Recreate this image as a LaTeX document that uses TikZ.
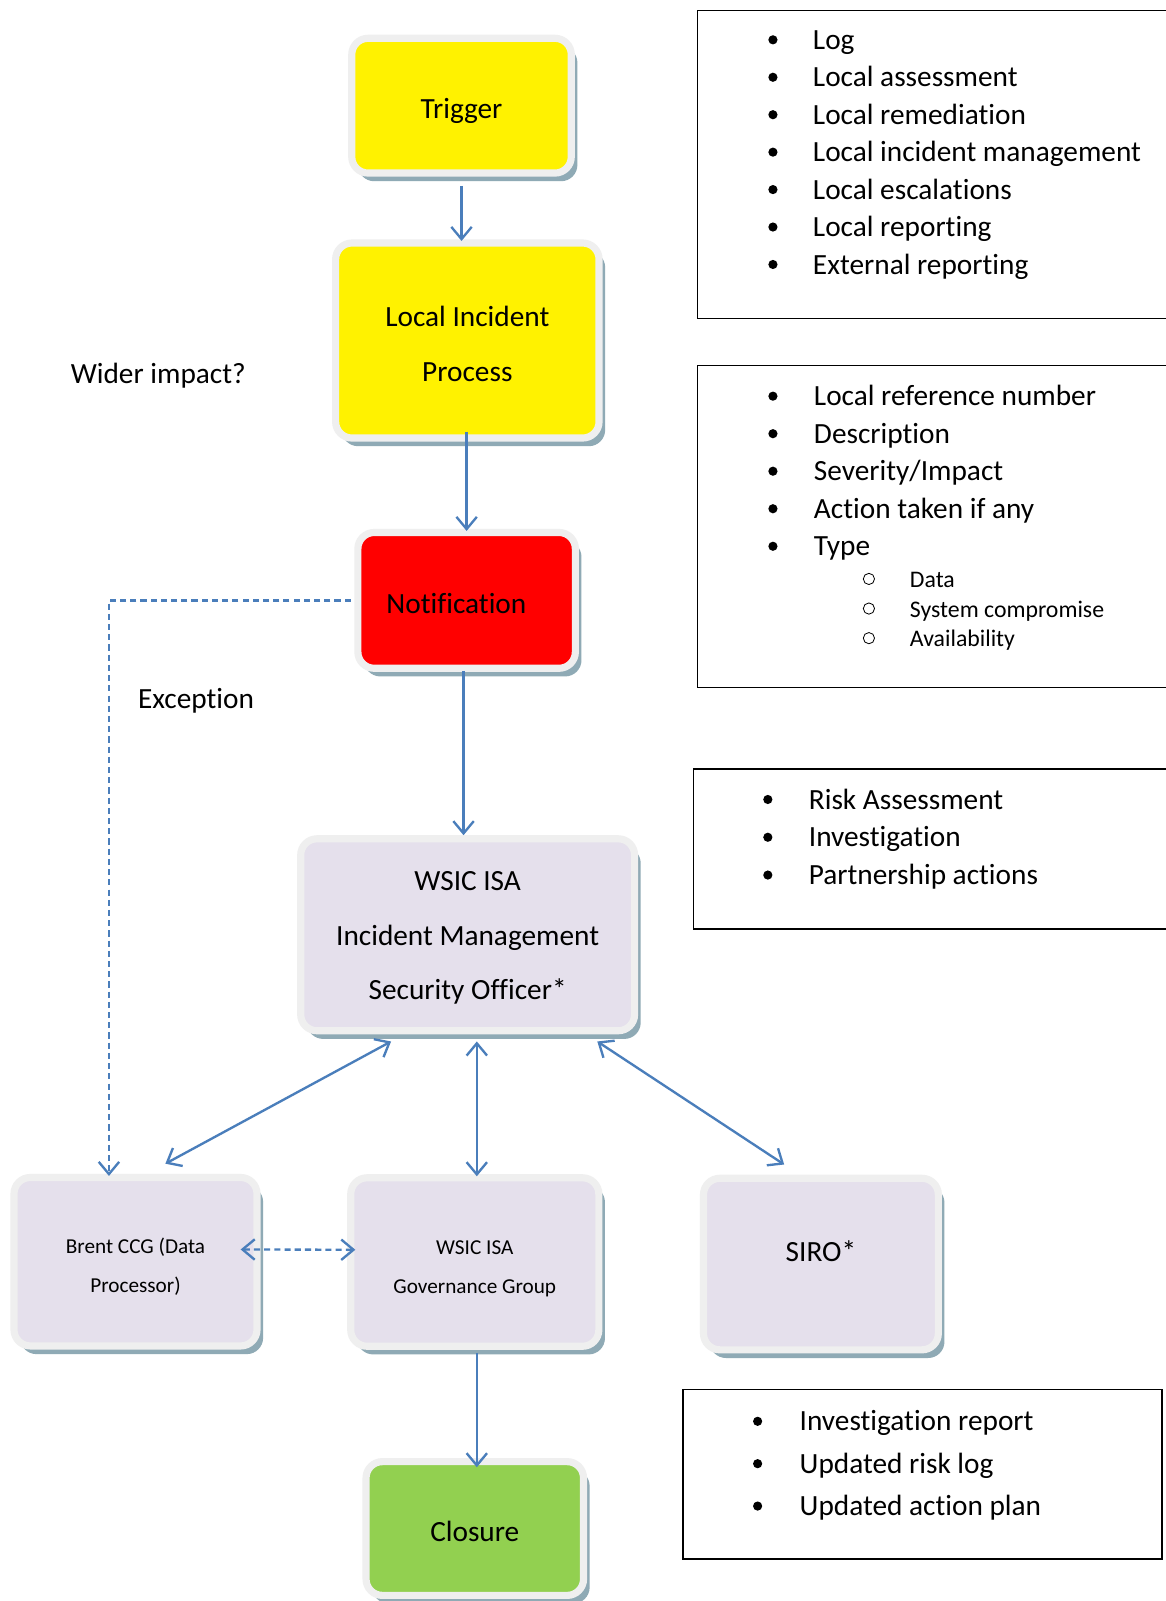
\documentclass[tikz,border=0pt]{standalone}
\usepackage{fontspec}
\setmainfont{Carlito}[Ligatures=NoCommon]
\usetikzlibrary{arrows.meta,shadows,calc}

\definecolor{ringc}{HTML}{EFEFEF}
\definecolor{shadc}{RGB}{143,170,181}
\definecolor{arrc}{HTML}{4A7EBB}
\definecolor{lilac}{HTML}{E5E0EC}
\definecolor{greenc}{HTML}{92D050}

\newcommand\tops[1]{\rule{0pt}{#1}}
\newcommand\bots[1]{\rule[-#1]{0pt}{#1}}

\tikzset{
  flow/.style={rectangle, rounded corners=16pt, draw=ringc, line width=7pt, align=center,
    inner sep=0pt, outer sep=0pt,
    drop shadow={shadow xshift=6pt, shadow yshift=-8pt, fill=shadc, opacity=1},
    font=\fontsize{28.7}{53}\selectfont},
  smallflow/.style={flow, font=\fontsize{20.8}{38}\selectfont},
  tipv/.tip={Straight Barb[length=12pt,width=20pt]},
  arr/.style={draw=arrc, line width=2.3pt, -tipv},
  arrboth/.style={draw=arrc, line width=2.3pt, tipv-tipv},
  dasharr/.style={arr, dash pattern=on 6pt off 4pt},
  dashboth/.style={arrboth, dash pattern=on 6pt off 4pt},
  listbox/.style={draw=black, line width=1.3pt},
  bul/.style={circle, fill=black, inner sep=0pt, minimum size=9pt},
  sbul/.style={circle, draw=black, line width=0.8pt, inner sep=0pt, minimum size=11pt},
  itm/.style={anchor=mid west, inner sep=0pt, yshift=-7pt, font=\fontsize{28.7}{34}\selectfont},
  subitm/.style={anchor=mid west, inner sep=0pt, yshift=-6pt, font=\fontsize{23.3}{28}\selectfont},
  plain/.style={inner sep=0pt, font=\fontsize{28.7}{34}\selectfont}
}

\begin{document}
\begin{tikzpicture}[x=1pt,y=-1pt]
\fill[white] (0,0) rectangle (1141,1568);
\useasboundingbox (0,0) rectangle (1141,1568);

% flow boxes
\node[flow, fill=yellow, minimum width=215pt, minimum height=132pt] (trig) at (452,103.5)
  {\tops{34pt}\bots{8.6pt}Trigger};
\node[flow, fill=yellow, minimum width=258pt, minimum height=191pt] (lip) at (457.7,333.5)
  {\tops{34pt}Local Incident\\\bots{7.6pt}Process};
\node[flow, fill=red, minimum width=213pt, minimum height=133pt] (notif) at (457,588)
  {\tops{34pt}\bots{8.6pt}Notification\hspace*{20pt}};
\node[flow, fill=lilac, minimum width=327pt, minimum height=188pt] (wsic) at (458,915.5)
  {\tops{34pt}WSIC ISA\\Incident Management\\\bots{13.9pt}Security Officer*};
\node[smallflow, fill=lilac, minimum width=238pt, minimum height=165pt] (brent) at (132.7,1235.7)
  {\tops{28pt}Brent CCG (Data\\\bots{5.2pt}Processor)};
\node[smallflow, fill=lilac, minimum width=243pt, minimum height=165pt] (gov) at (465,1236)
  {\tops{28pt}WSIC ISA\\\bots{5.2pt}Governance Group};
\node[flow, fill=lilac, minimum width=230pt, minimum height=168pt] (siro) at (804,1238)
  {\raisebox{26pt}{SIRO*}};
\node[flow, fill=greenc, minimum width=213pt, minimum height=131pt] (clos) at (465,1497)
  {\tops{34pt}\bots{8.6pt}Closure};

% free labels
\node[plain] (wider) at (155,368) {Wider impact?};
\node[plain] (exc) at (192,686) {Exception};

% connectors
\draw[arr, shorten <=12.5pt, shorten >=2pt] (trig.south) -- (trig.south |- lip.north);
\draw[arr, shorten <=-6pt, shorten >=1.5pt] (lip.south -| notif.north) -- (notif.north);
\draw[arr, shorten <=2.5pt, shorten >=3.5pt] ([xshift=-3pt]notif.south) -- ([xshift=-3pt]notif.south |- wsic.north);
\draw[arrboth] ($(wsic.south west)+(88.5,10.5)$) -- ($(brent.north)+(29.3,-13.5)$);
\draw[arrboth] ($(wsic.south -| gov.north)+(2,10.5)$) -- ($(gov.north)+(2,-1.5)$);
\draw[arrboth] ($(wsic.south east)+(-36.5,10.5)$) -- ($(siro.north)+(-36,-13.5)$);
\draw[dashboth] ($(brent.east)+(-16,-12)$) -- ($(gov.west)+(4.5,-12)$);
\draw[arr] ($(gov.south)+(2,7)$) -- ($(clos.north)+(2,5.5)$);
\draw[dasharr] ($(notif.west)+(-7,0)$) -| ($(brent.north)+(-26,-1.5)$);

% list box 1
\draw[listbox] (683,10) rectangle (1160,312);
\foreach \t [count=\i] in {Log, Local assessment, Local remediation, Local incident management, Local escalations, Local reporting, External reporting} {
  \node[bul] (ba\i) at (757,{39+36.67*(\i-1)}) {};
  \node[itm] (ta\i) at (796,{39+36.67*(\i-1)}) {\t};
}

% list box 2
\draw[listbox] (683,358) rectangle (1160,673);
\foreach \t [count=\i] in {Local reference number, Description, Severity/Impact, Action taken if any, Type} {
  \node[bul] (bb\i) at (757,{388+36.75*(\i-1)}) {};
  \node[itm] (tb\i) at (797,{388+36.75*(\i-1)}) {\t};
}
\foreach \t [count=\i] in {Data, System compromise, Availability} {
  \node[sbul] (sb\i) at (851,{567+29*(\i-1)}) {};
  \node[subitm] (ts\i) at (891,{567+29*(\i-1)}) {\t};
}

% list box 3
\draw[listbox] (679,753) rectangle (1160,910);
\foreach \t [count=\i] in {Risk Assessment, Investigation, Partnership actions} {
  \node[bul] (bc\i) at (752,{783+37*(\i-1)}) {};
  \node[itm] (tc\i) at (792,{783+37*(\i-1)}) {\t};
}

% list box 4
\draw[listbox] (669,1361) rectangle (1138,1527);
\foreach \t [count=\i] in {Investigation report, Updated risk log, Updated action plan} {
  \node[bul] (bd\i) at (742,{1392+41.5*(\i-1)}) {};
  \node[itm] (td\i) at (783,{1392+41.5*(\i-1)}) {\t};
}
\end{tikzpicture}
\end{document}
